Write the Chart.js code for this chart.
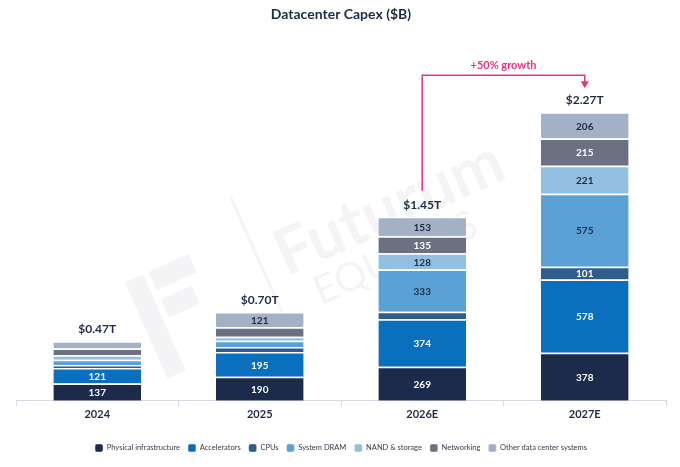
<!DOCTYPE html>
<html lang="en">
<head>
    <meta charset="UTF-8">
    <title>Datacenter Capex ($B)</title>
    <script src="https://cdn.jsdelivr.net/npm/chart.js"></script>
    <style>
        html, body { margin: 0; padding: 0; background: #fff; }
        #wrap { width: 680px; height: 467px; }
    </style>
</head>
<body>
    <div id="wrap">
        <canvas id="capexChart"></canvas>
    </div>

    <script>
        // chart data ($B)
        const years = ['2024', '2025', '2026E', '2027E'];
        const totals = ['$0.47T', '$0.70T', '$1.45T', '$2.27T'];
        const physicalInfra = [137, 190, 269, 378];
        const accelerators = [121, 195, 374, 578];
        const cpus = [25, 39, 58, 101];
        const systemDram = [40, 50, 333, 575];
        const nandStorage = [35, 30, 128, 221];
        const networking = [55, 75, 135, 215];
        const otherSystems = [57, 121, 153, 206];
        const growthText = '+50% growth';

        const fontFamily = 'Lato, "Noto Sans", sans-serif';
        const ink = '#1f2a44';

        // which values get printed inside the bars, and text colour per series
        const series = [
            { label: 'Physical infrastructure', data: physicalInfra, color: '#1c2b4b', text: '#fff', shown: [true, true, true, true] },
            { label: 'Accelerators', data: accelerators, color: '#0a6fbd', text: '#fff', shown: [true, true, true, true] },
            { label: 'CPUs', data: cpus, color: '#2e5d8c', text: '#fff', shown: [false, false, false, true] },
            { label: 'System DRAM', data: systemDram, color: '#5aa2d5', text: ink, shown: [false, false, true, true] },
            { label: 'NAND & storage', data: nandStorage, color: '#93c0e0', text: ink, shown: [false, false, true, true] },
            { label: 'Networking', data: networking, color: '#6b7180', text: '#fff', shown: [false, false, true, true] },
            { label: 'Other data center systems', data: otherSystems, color: '#a4b0c6', text: ink, shown: [false, true, true, true] }
        ];

        // faint brand watermark behind the bars
        const watermarkPlugin = {
            id: 'watermark',
            beforeDatasetsDraw(chart) {
                const ctx = chart.ctx;
                ctx.save();
                ctx.translate(278, 258);
                ctx.rotate(-24 * Math.PI / 180);
                ctx.fillStyle = 'rgba(30, 40, 70, 0.05)';
                ctx.font = 'bold 64px ' + fontFamily;
                ctx.fillText('Futurum', 0, 0);
                ctx.font = '40px ' + fontFamily;
                ctx.fillText('EQUITIES', 20, 48);
                ctx.fillRect(-150, -40, 20, 105);
                ctx.fillRect(-124, -40, 44, 20);
                ctx.fillRect(-124, -10, 34, 20);
                ctx.fillRect(-20, -75, 3, 140);
                ctx.restore();
            }
        };

        // values inside segments + totals above bars
        const labelPlugin = {
            id: 'barLabels',
            afterDatasetsDraw(chart) {
                const ctx = chart.ctx;
                ctx.save();
                ctx.textAlign = 'center';
                ctx.textBaseline = 'middle';
                ctx.font = 'bold 10px ' + fontFamily;
                series.forEach((s, di) => {
                    const meta = chart.getDatasetMeta(di);
                    meta.data.forEach((bar, i) => {
                        if (!s.shown[i]) return;
                        ctx.fillStyle = s.text;
                        ctx.fillText(String(s.data[i]), bar.x, (bar.y + bar.base) / 2 + 1);
                    });
                });
                const lastMeta = chart.getDatasetMeta(series.length - 1);
                ctx.font = 'bold 12px ' + fontFamily;
                ctx.fillStyle = ink;
                lastMeta.data.forEach((bar, i) => {
                    ctx.fillText(totals[i], bar.x, bar.y - 12);
                });
                ctx.restore();
            }
        };

        // pink growth arrow from 2026E to 2027E
        const arrowPlugin = {
            id: 'growthArrow',
            afterDatasetsDraw(chart) {
                const ctx = chart.ctx;
                const meta = chart.getDatasetMeta(series.length - 1);
                const a = meta.data[2], b = meta.data[3];
                const topY = chart.scales.y.getPixelForValue(2565);
                ctx.save();
                ctx.strokeStyle = '#e8337f';
                ctx.fillStyle = '#e8337f';
                ctx.lineWidth = 1.6;
                ctx.beginPath();
                ctx.moveTo(a.x, a.y - 26);
                ctx.lineTo(a.x, topY);
                ctx.lineTo(b.x, topY);
                ctx.lineTo(b.x, b.y - 30);
                ctx.stroke();
                ctx.beginPath();
                ctx.moveTo(b.x - 4, b.y - 31);
                ctx.lineTo(b.x + 4, b.y - 31);
                ctx.lineTo(b.x, b.y - 24);
                ctx.closePath();
                ctx.fill();
                ctx.font = 'bold 11px ' + fontFamily;
                ctx.textAlign = 'center';
                ctx.textBaseline = 'bottom';
                ctx.fillText(growthText, (a.x + b.x) / 2, topY - 4);
                ctx.restore();
            }
        };

        const ctx = document.getElementById('capexChart').getContext('2d');
        new Chart(ctx, {
            type: 'bar',
            data: {
                labels: years,
                datasets: series.map(s => ({
                    label: s.label,
                    data: s.data,
                    backgroundColor: s.color,
                    borderColor: '#ffffff',
                    borderWidth: { top: 1.5, bottom: 0, left: 0, right: 0 },
                    borderSkipped: false,
                    borderRadius: 2,
                    categoryPercentage: 1,
                    barPercentage: 0.54
                }))
            },
            options: {
                responsive: true,
                maintainAspectRatio: false,
                animation: false,
                layout: { padding: { left: 16, right: 14, top: 0, bottom: 5 } },
                scales: {
                    x: {
                        stacked: true,
                        grid: { drawOnChartArea: false, tickLength: 5, color: '#d6dae2', offset: true },
                        border: { color: '#d6dae2' },
                        ticks: { color: ink, font: { family: fontFamily, size: 11, weight: 'bold' }, padding: 2 },
                        // extra room between the year labels and the legend
                        afterFit: function(scale) { scale.height += 13; }
                    },
                    y: {
                        stacked: true,
                        display: false,
                        min: 0,
                        max: 2900
                    }
                },
                plugins: {
                    title: {
                        display: true,
                        text: 'Datacenter Capex ($B)',
                        color: ink,
                        font: { family: fontFamily, size: 14, weight: 'bold' },
                        padding: { top: 6, bottom: 10 }
                    },
                    legend: {
                        position: 'bottom',
                        labels: {
                            color: '#333a4a',
                            font: { family: fontFamily, size: 7.5 },
                            boxWidth: 8,
                            boxHeight: 8,
                            padding: 8,
                            useBorderRadius: true,
                            borderRadius: 2
                        }
                    },
                    tooltip: { enabled: false }
                }
            },
            plugins: [watermarkPlugin, labelPlugin, arrowPlugin]
        });
    </script>
</body>
</html>
